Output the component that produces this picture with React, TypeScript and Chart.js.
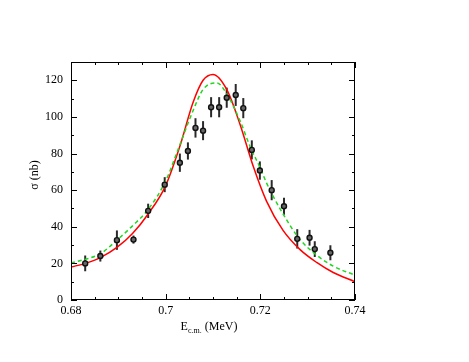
import React, { useEffect, useRef } from "react";
import { Chart, registerables } from "chart.js";
Chart.register(...registerables);

// Measured data points (E in MeV, sigma in nb, error in nb)
const dataE = [0.683, 0.6862, 0.6897, 0.6932, 0.6963, 0.6998, 0.703, 0.7047, 0.7063, 0.7079, 0.7096, 0.7113, 0.7129, 0.7148, 0.7164, 0.7182, 0.7199, 0.7224, 0.725, 0.7278, 0.7304, 0.7315, 0.7348];
const dataSigma = [20, 24, 32.7, 33, 48.7, 63, 75, 81.4, 94, 92.5, 105.3, 105.3, 110.5, 112, 104.8, 82, 70.7, 60, 51.2, 33.4, 34, 27.8, 25.8];
const dataErr = [4.3, 3, 5.3, 2.2, 3.9, 4.1, 5, 4.7, 5.3, 5.2, 5.5, 5.5, 5.5, 6, 5.5, 5.2, 5, 5.5, 4.7, 5.3, 4.3, 4.3, 4.1];

// Red solid curve
const redE = [0.680, 0.683, 0.6863, 0.6897, 0.693, 0.6963, 0.700, 0.703, 0.7058, 0.7079, 0.7100, 0.7129, 0.7157, 0.7185, 0.7213, 0.7248, 0.7284, 0.7319, 0.7354, 0.740];
const redSigma = [18.0, 20.0, 23.3, 28.7, 36.3, 47, 62.5, 84, 108, 120, 123.2, 115, 96, 73, 54, 38, 27.5, 20.5, 15, 10];

// Green dashed curve
const greenE = [0.680, 0.683, 0.6863, 0.6897, 0.693, 0.6963, 0.700, 0.7023, 0.7058, 0.7079, 0.7108, 0.7129, 0.7157, 0.7178, 0.720, 0.7213, 0.7248, 0.7284, 0.7319, 0.7354, 0.740];
const greenSigma = [20.3, 22.2, 25.4, 32.7, 40.5, 49.5, 65, 80, 103.5, 115, 118.6, 112.6, 98, 84, 72, 64, 47, 33, 24.5, 18.5, 13.6];

const xTicks = [0.68, 0.7, 0.72, 0.74];
const xTickLabels = ["0.68", "0.7", "0.72", "0.74"];
const xMinorStep = 0.005;
const yTicks = [0, 20, 40, 60, 80, 100, 120];
const yTickLabels = ["0", "20", "40", "60", "80", "100", "120"];
const yMinorStep = 10;

const FONT = "'Liberation Serif', 'DejaVu Serif', serif";

const framePlugin = {
  id: "frameAndExtras",
  beforeDatasetsDraw(chart: any) {
    const ctx = chart.ctx;
    const xs = chart.scales.x;
    const ys = chart.scales.y;
    ctx.save();
    ctx.beginPath();
    ctx.rect(chart.chartArea.left, chart.chartArea.top, chart.chartArea.right - chart.chartArea.left, chart.chartArea.bottom - chart.chartArea.top);
    ctx.clip();
    ctx.strokeStyle = "#2a2a2a";
    ctx.lineWidth = 2;
    for (let i = 0; i < dataE.length; i++) {
      const px = xs.getPixelForValue(dataE[i]);
      const y1 = ys.getPixelForValue(dataSigma[i] - dataErr[i]);
      const y2 = ys.getPixelForValue(dataSigma[i] + dataErr[i]);
      ctx.beginPath();
      ctx.moveTo(px, y1);
      ctx.lineTo(px, y2);
      ctx.stroke();
    }
    ctx.restore();
  },
  afterDraw(chart: any) {
    const ctx = chart.ctx;
    const { left, right, top, bottom } = chart.chartArea;
    const xs = chart.scales.x;
    const ys = chart.scales.y;
    ctx.save();
    ctx.strokeStyle = "#000";
    ctx.lineWidth = 1;
    ctx.strokeRect(Math.round(left) + 0.5, Math.round(top) + 0.5, Math.round(right - left) - 1, Math.round(bottom - top) - 1);
    ctx.beginPath();
    const xmin = xs.min, xmax = xs.max;
    const nx = Math.round((xmax - xmin) / xMinorStep);
    for (let i = 0; i <= nx; i++) {
      const v = xmin + i * xMinorStep;
      const major = xTicks.some((t) => Math.abs(t - v) < 1e-9);
      const len = major ? 6 : 3;
      const px = Math.round(xs.getPixelForValue(v)) + 0.5;
      ctx.moveTo(px, bottom);
      ctx.lineTo(px, bottom - len);
      ctx.moveTo(px, top);
      ctx.lineTo(px, top + len);
    }
    const ymin = ys.min, ymax = ys.max;
    const ny = Math.floor((ymax - ymin) / yMinorStep + 1e-9);
    for (let i = 0; i <= ny; i++) {
      const v = ymin + i * yMinorStep;
      const major = yTicks.some((t) => Math.abs(t - v) < 1e-9);
      const len = major ? 6 : 3;
      const py = Math.round(ys.getPixelForValue(v)) + 0.5;
      ctx.moveTo(left, py);
      ctx.lineTo(left + len, py);
      ctx.moveTo(right, py);
      ctx.lineTo(right - len, py);
    }
    ctx.stroke();

    // Axis titles
    ctx.fillStyle = "#000";
    ctx.textBaseline = "alphabetic";
    const mainFont = `12px ${FONT}`;
    const subFont = `8px ${FONT}`;
    ctx.font = mainFont;
    const wE = ctx.measureText("E").width;
    const wRest = ctx.measureText(" (MeV)").width;
    ctx.font = subFont;
    const wSub = ctx.measureText("c.m.").width;
    const total = wE + wSub + wRest;
    const cx = 209;
    const x0 = cx - total / 2;
    const base = 330;
    ctx.font = mainFont;
    ctx.textAlign = "left";
    ctx.fillText("E", x0, base);
    ctx.font = subFont;
    ctx.fillText("c.m.", x0 + wE, base + 3);
    ctx.font = mainFont;
    ctx.fillText(" (MeV)", x0 + wE + wSub, base);

    ctx.translate(35, 175);
    ctx.rotate(-Math.PI / 2);
    ctx.textAlign = "center";
    ctx.textBaseline = "middle";
    ctx.font = mainFont;
    ctx.fillText("σ (nb)", 0, 0);
    ctx.restore();
  },
};

export default function App() {
  const ref = useRef<HTMLCanvasElement | null>(null);
  useEffect(() => {
    if (!ref.current) return;
    const chart = new Chart(ref.current, {
      type: "scatter",
      data: {
        datasets: [
          {
            label: "data",
            data: dataE.map((e, i) => ({ x: e, y: dataSigma[i] })),
            showLine: false,
            pointRadius: 2.5,
            pointBackgroundColor: "#666",
            pointBorderColor: "#111",
            pointBorderWidth: 1.4,
          },
          {
            label: "green",
            data: greenE.map((e, i) => ({ x: e, y: greenSigma[i] })),
            showLine: true,
            borderColor: "#22d622",
            borderWidth: 1.5,
            borderDash: [4, 3],
            pointRadius: 0,
            cubicInterpolationMode: "monotone",
          } as any,
          {
            label: "red",
            data: redE.map((e, i) => ({ x: e, y: redSigma[i] })),
            showLine: true,
            borderColor: "#ff0000",
            borderWidth: 1.5,
            pointRadius: 0,
            cubicInterpolationMode: "monotone",
          } as any,
        ],
      },
      options: {
        animation: false,
        responsive: false,
        layout: { padding: { left: 0, right: 114, top: 62, bottom: 0 } },
        plugins: { legend: { display: false }, tooltip: { enabled: false } },
        scales: {
          x: {
            type: "linear",
            min: 0.68,
            max: 0.74,
            afterBuildTicks: (s: any) => {
              s.ticks = xTicks.map((v) => ({ value: v }));
            },
            afterFit: (s: any) => {
              s.height = 62;
            },
            ticks: {
              callback: (_v: any, i: number) => xTickLabels[i],
              font: { family: FONT, size: 12 },
              color: "#000",
              padding: 4,
              maxRotation: 0,
              autoSkip: false,
            },
            grid: { display: false, drawTicks: false },
            border: { display: false },
          },
          y: {
            type: "linear",
            min: 0,
            max: 130,
            afterBuildTicks: (s: any) => {
              s.ticks = yTicks.map((v) => ({ value: v }));
            },
            afterFit: (s: any) => {
              s.width = 71;
            },
            ticks: {
              callback: (_v: any, i: number) => yTickLabels[i],
              font: { family: FONT, size: 12 },
              color: "#000",
              padding: 8,
              autoSkip: false,
            },
            grid: { display: false, drawTicks: false },
            border: { display: false },
          },
        },
      },
      plugins: [framePlugin],
    });
    return () => chart.destroy();
  }, []);
  return (
    <div style={{ position: "fixed", left: 0, top: 0, width: 469, height: 362, background: "#fff" }}>
      <canvas ref={ref} width={469} height={362} style={{ display: "block" }} />
    </div>
  );
}
